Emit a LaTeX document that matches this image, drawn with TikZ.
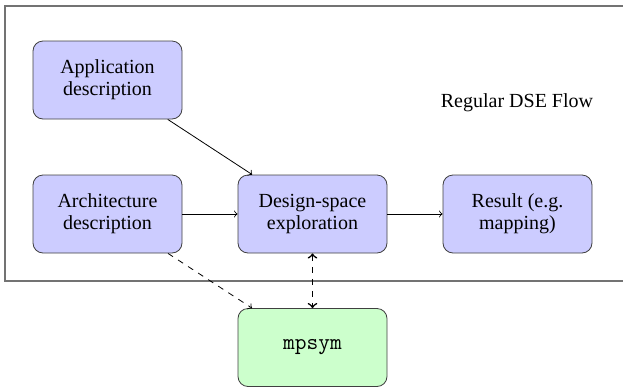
\documentclass[tikz,border=0pt]{standalone}
\usepackage{fontspec}
\setmainfont{Liberation Serif}
\begin{document}
\begin{tikzpicture}[x=0.5pt,y=-0.5pt,
  box/.style={draw=black!75, fill=blue!20, rounded corners=5pt, minimum width=74.5pt, minimum height=39pt, align=center, inner sep=0pt, font=\fontsize{10}{11}\selectfont},
  symbox/.style={box, fill=green!20},
  flow/.style={->, black},
  frame/.style={draw=black!55, line width=0.7pt}]
\useasboundingbox (0,0) rectangle (623,387);
\draw[frame] (5,6) rectangle (640,281);
\node[box] (app) at (107.5,80) {Application\\description};
\node[box] (arch) at (107.5,214) {Architecture\\description};
\node[box] (dse) at (312.5,214) {Design-space\\exploration};
\node[box] (res) at (517.5,214) {Result (e.g.\\mapping)};
\node[symbox] (sym) at (312.5,347.5) {\fontsize{11.4}{12}\selectfont\ttfamily mpsym};
\node[font=\fontsize{10}{11}\selectfont] (lbl) at (517,103) {Regular DSE Flow};
\draw[flow] (app) -- (dse);
\draw[flow] (arch) -- (dse);
\draw[flow] (dse) -- (res);
\draw[flow, dashed] (arch) -- (sym);
\draw[<->, thick, dashed] (dse) -- (sym);
\end{tikzpicture}
\end{document}
